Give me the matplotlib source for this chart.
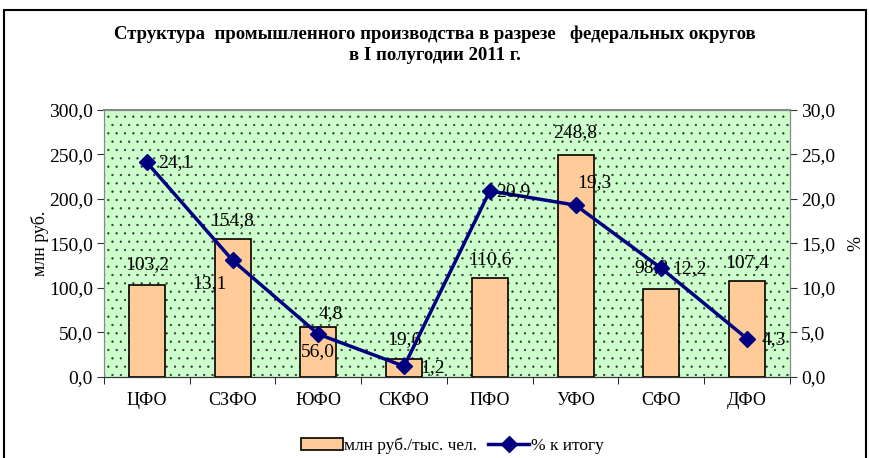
import numpy as np
import matplotlib.pyplot as plt
from matplotlib.patches import Rectangle

plt.rcParams['font.family'] = ['Liberation Serif', 'DejaVu Serif']
plt.rcParams['hatch.linewidth'] = 0.4

districts = ['ЦФО', 'СЗФО', 'ЮФО', 'СКФО', 'ПФО', 'УФО', 'СФО', 'ДФО']
rub_per_person = [103.2, 154.8, 56.0, 19.6, 110.6, 248.8, 98.8, 107.4]
pct_of_total = [24.1, 13.1, 4.8, 1.2, 20.9, 19.3, 12.2, 4.3]

# label offsets in pixels (dx, dy)
bar_offsets = [(0, 20), (0, 19), (0, -25), (0, 20), (0, 19), (0, 23), (-10, 21), (0, 19)]
line_offsets = [(28, 0), (-23, -23), (12, 21), (28, -1), (23, -1), (19, 23), (28, 0), (27, -1)]


def fmt(v):
    return f'{v:.1f}'.replace('.', ',')


fig = plt.figure(figsize=(8.7, 4.58), dpi=100)
ax = fig.add_axes([0.1195, 0.177, 0.7885, 0.583])
ax2 = ax.twinx()

ax.set_facecolor('#ccffcc')
ax.add_patch(Rectangle((0, 0), 1, 1, transform=ax.transAxes, facecolor='none',
                       edgecolor='#333333', hatch='..', linewidth=0, zorder=0))

x = np.arange(len(districts))
bars = ax.bar(x, rub_per_person, width=0.42, color='#ffcc99', edgecolor='black',
              linewidth=1.2, zorder=2, label='млн руб./тыс. чел.')
line, = ax2.plot(x, pct_of_total, color='#000080', linewidth=2.5, marker='D',
                 markersize=8, label='% к итогу', zorder=3)

ax.set_xlim(-0.5, len(districts) - 0.5)
ax.set_ylim(0, 300)
ax2.set_ylim(0, 30)
ax.set_yticks(np.arange(0, 301, 50))
ax.set_yticklabels([fmt(v) for v in np.arange(0, 301, 50)])
ax2.set_yticks(np.arange(0, 31, 5))
ax2.set_yticklabels([fmt(v) for v in np.arange(0, 31, 5)])

ax.set_xticks(x)
ax.set_xticklabels(districts, fontsize=13)
ax.set_xticks(np.arange(-0.5, len(districts), 1), minor=True)
ax.tick_params(axis='x', which='major', length=0, pad=11)
ax.tick_params(axis='x', which='minor', length=5, direction='out')
ax.tick_params(axis='y', labelsize=14, length=5, direction='out', color='#333333', pad=3)
ax2.tick_params(axis='y', labelsize=14, length=5, direction='out', color='#333333', pad=3)

for a in (ax, ax2):
    for s in a.spines.values():
        s.set_color('#888888')
    a.spines['bottom'].set_color('#333333')
ax.spines['top'].set_linewidth(1.5)

ax.set_ylabel('млн руб.', fontsize=13)
ax.yaxis.set_label_coords(-0.08, 0.5)
ax2.set_ylabel('%', fontsize=13, rotation=-90, va='center')
ax2.yaxis.set_label_coords(1.087, 0.5)

for xi, v, (dx, dy) in zip(x, rub_per_person, bar_offsets):
    ax.annotate(fmt(v), (xi, v), xytext=(dx, dy), textcoords='offset pixels',
                ha='center', va='center', fontsize=14, zorder=5)
for xi, v, (dx, dy) in zip(x, pct_of_total, line_offsets):
    ax2.annotate(fmt(v), (xi, v), xytext=(dx, dy), textcoords='offset pixels',
                 ha='center', va='center', fontsize=14, zorder=5)

fig.text(0.5, 0.902, 'Структура  промышленного производства в разрезе   федеральных округов\nв I полугодии 2011 г.',
         ha='center', va='center', fontsize=13.5, fontweight='bold', linespacing=1.35)

fig.legend(handles=[bars, line], loc='center', bbox_to_anchor=(0.52, 0.026), ncol=2,
           frameon=False, fontsize=12.5, handlelength=2.4, handletextpad=0.1, columnspacing=0.6)

fig.add_artist(Rectangle((4 / 870, -0.05), 862 / 870, 1 - 10 / 458 + 0.05,
                         transform=fig.transFigure, fill=False, edgecolor='black', linewidth=1.5))

fig.savefig('out.png', dpi=100)
